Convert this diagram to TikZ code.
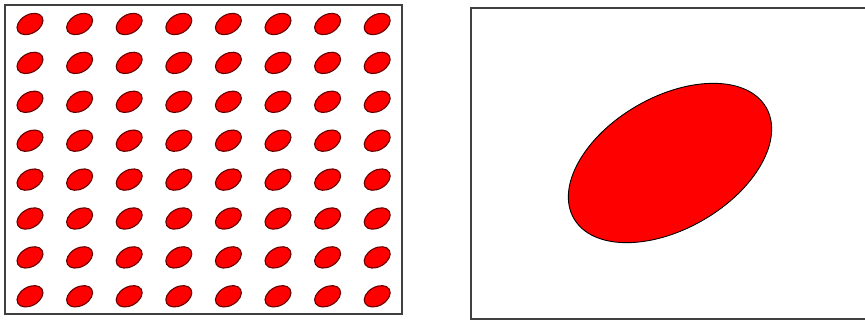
\documentclass[tikz,border=0pt]{standalone}
\begin{document}
\begin{tikzpicture}[x=1pt,y=1pt,
  frame/.style={draw=black!75,line width=2pt},
  blob/.style={fill=red,draw=black!60!red,line width=1.1pt},
  bigblob/.style={fill=red,draw=black,line width=0.9pt}]
\useasboundingbox (0,0) rectangle (865,321);
% left box
\draw[frame] (4.7,316) rectangle (401.7,7);
\foreach \i in {0,...,7}{
  \foreach \j in {0,...,7}{
    \draw[blob] ({30+49.6*\i},{321-(24+38.9*\j)}) ellipse [x radius=14, y radius=9.3, rotate=30];
  }
}
% right box
\draw[frame] (471,312.5) rectangle (865.8,2);
\draw[bigblob] (670,158) ellipse [x radius=111, y radius=66, rotate=30];
\end{tikzpicture}
\end{document}
